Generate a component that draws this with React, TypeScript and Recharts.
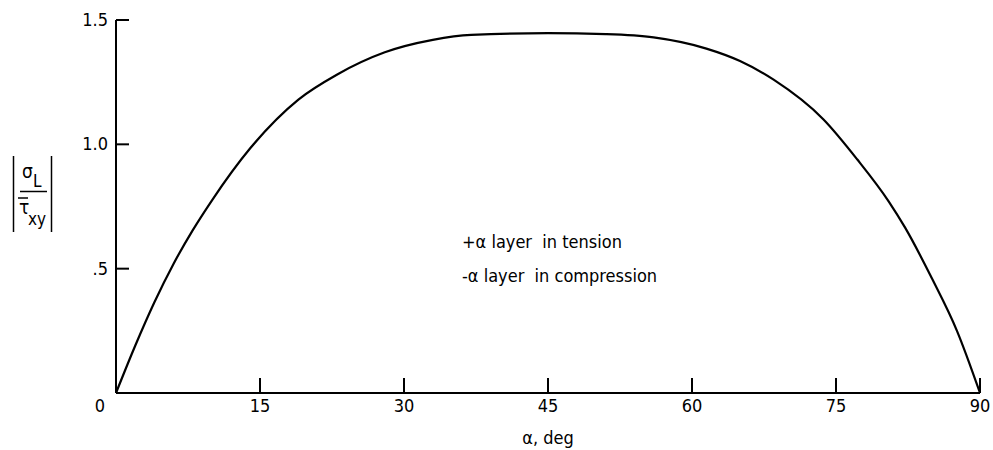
import React from "react";
import { LineChart, Line, XAxis, YAxis } from "recharts";

// ply angle, deg
const alphaDeg = [0, 2, 4, 6, 8, 10, 14, 19, 23, 28, 33, 37, 45, 51, 56, 61.5, 65, 68.5, 73.7, 77.2, 80.5, 82.2, 85, 87.6, 90];
// |sigma_L / tau_xy|
const stressRatio = [0, 0.19, 0.365, 0.52, 0.655, 0.775, 0.985, 1.18, 1.28, 1.37, 1.42, 1.44, 1.447, 1.443, 1.43, 1.385, 1.335, 1.26, 1.1, 0.94, 0.77, 0.665, 0.46, 0.25, 0];

const xTicks = [0, 15, 30, 45, 60, 75, 90];
const yTicks = [0.5, 1.0, 1.5];
const yTickLabels = [".5", "1.0", "1.5"];
const notes = ["+α layer  in tension", "-α layer  in compression"];

const data = alphaDeg.map((a, i) => ({ a, r: stressRatio[i] }));

const FONT = "'Liberation Sans Narrow', 'DejaVu Sans Condensed', 'Roboto Condensed', sans-serif";

const XTick = (props: any) => {
  const { x, y, payload } = props;
  const isOrigin = payload.value === 0;
  return (
    <g>
      {!isOrigin && <line x1={x} x2={x} y1={y} y2={y - 15} stroke="#000" strokeWidth={2} />}
      <text x={isOrigin ? x - 16 : x} y={y + 19} textAnchor="middle" fontSize={18} fontFamily={FONT} fill="#000">
        {payload.value}
      </text>
    </g>
  );
};

const YTick = (props: any) => {
  const { x, y, payload } = props;
  const idx = yTicks.indexOf(payload.value);
  return (
    <g>
      <line x1={x} x2={x + 13} y1={y} y2={y} stroke="#000" strokeWidth={2} />
      <text x={x - 8} y={y + 6} textAnchor="end" fontSize={18} fontFamily={FONT} fill="#000">
        {yTickLabels[idx]}
      </text>
    </g>
  );
};

// |sigma_L / tau-bar_xy| drawn as a stacked fraction between two bars
const YLabel = () => (
  <g fontFamily={FONT} fill="#000">
    <line x1={13.5} x2={13.5} y1={156} y2={232} stroke="#000" strokeWidth={1.5} />
    <line x1={51.5} x2={51.5} y1={156} y2={232} stroke="#000" strokeWidth={1.5} />
    <text x={22} y={178} fontSize={19}>σ</text>
    <text x={33} y={187} fontSize={17}>L</text>
    <line x1={20} x2={47} y1={191.5} y2={191.5} stroke="#000" strokeWidth={1.5} />
    <line x1={18} x2={28} y1={198} y2={198} stroke="#000" strokeWidth={1.5} />
    <text x={19} y={214} fontSize={19}>τ</text>
    <text x={28} y={225} fontSize={17}>xy</text>
  </g>
);

export default function App() {
  return (
    <div style={{ position: "absolute", left: 0, top: 0, background: "#fff" }}>
      <LineChart width={993} height={450} data={data} margin={{ top: 20, right: 13, bottom: 0, left: 0 }}>
        <XAxis
          dataKey="a"
          type="number"
          domain={[0, 90]}
          ticks={xTicks}
          interval={0}
          height={57}
          tickSize={0}
          tickMargin={0}
          tickLine={false}
          axisLine={{ stroke: "#000", strokeWidth: 2 }}
          tick={<XTick />}
          label={{ value: "α, deg", position: "insideBottom", offset: 6, fontSize: 18, fontFamily: FONT, fill: "#000" }}
        />
        <YAxis
          type="number"
          domain={[0, 1.5]}
          ticks={yTicks}
          interval={0}
          width={116}
          tickSize={0}
          tickMargin={0}
          tickLine={false}
          axisLine={{ stroke: "#000", strokeWidth: 2 }}
          tick={<YTick />}
          label={<YLabel />}
        />
        <Line
          dataKey="r"
          type="monotone"
          stroke="#000"
          strokeWidth={2.2}
          dot={false}
          isAnimationActive={false}
        />
      </LineChart>
      {notes.map((t, i) => (
        <div
          key={t}
          style={{
            position: "absolute",
            left: 462,
            top: 231 + i * 34,
            fontFamily: FONT,
            fontSize: 18,
            whiteSpace: "pre",
            color: "#000",
          }}
        >
          {t}
        </div>
      ))}
    </div>
  );
}
